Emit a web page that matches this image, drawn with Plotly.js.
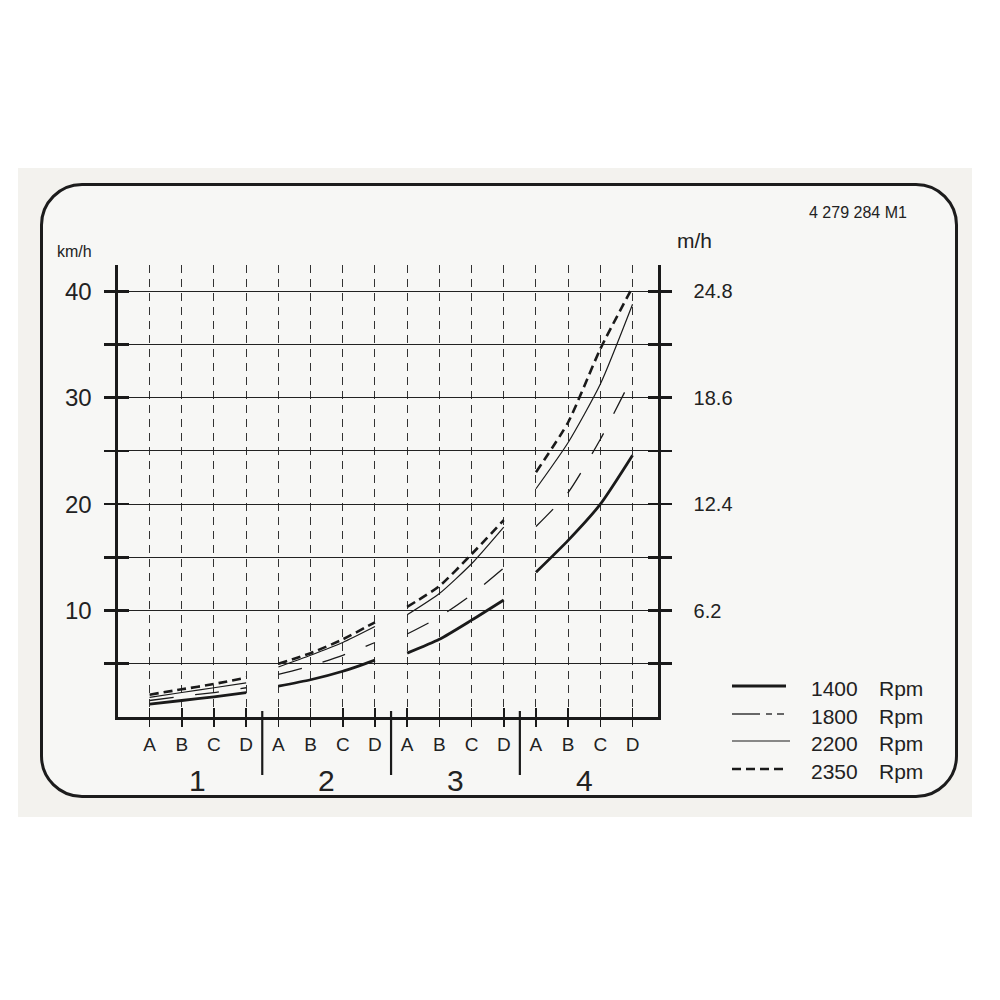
<!DOCTYPE html>
<html>
<head>
<meta charset="utf-8">
<script src="https://cdn.plot.ly/plotly-3.0.1.min.js"></script>
<style>
  html, body { margin: 0; padding: 0; background: #ffffff; }
  #sheet { position: absolute; left: 18px; top: 168px; width: 954px; height: 649px; background: #f3f2ee; }
  #frame { position: absolute; left: 40px; top: 183px; width: 918px; height: 615px; box-sizing: border-box;
           border: 3px solid #1c1c1c; border-radius: 42px; background: #f7f7f5; }
  #chart { position: absolute; left: 0; top: 0; width: 1000px; height: 1000px; }
</style>
</head>
<body>
<div id="sheet"></div>
<div id="frame"></div>
<div id="chart"></div>
<script>
// ---- data ----
const gears = ['1', '2', '3', '4'];
const ranges = ['A', 'B', 'C', 'D'];
const rpmLabels = ['1400', '1800', '2200', '2350'];
// km/h per gear, per range A-D
const rpm1400 = [[1.2, 1.55, 1.9, 2.3], [2.9, 3.5, 4.3, 5.35], [6.0, 7.3, 9.1, 11.0], [13.6, 16.6, 20.0, 24.6]];
const rpm1800 = [[1.55, 1.95, 2.3, 2.75], [4.0, 4.8, 5.8, 7.0], [7.8, 9.4, 11.5, 14.0], [17.9, 21.1, 26.1, 32.0]];
const rpm2200 = [[1.85, 2.3, 2.75, 3.2], [4.7, 5.8, 7.0, 8.5], [9.6, 11.6, 14.4, 17.85], [21.45, 25.8, 31.3, 38.8]];
const rpm2350 = [[2.1, 2.6, 3.1, 3.7], [5.0, 6.0, 7.3, 8.9], [10.35, 12.3, 15.3, 18.5], [23.0, 27.7, 34.6, 40.4]];
const kmhTicks = [5, 10, 15, 20, 25, 30, 35, 40];
const kmhLabels = ['', '10', '', '20', '', '30', '', '40'];
const mphTicks = [3.1, 6.2, 9.3, 12.4, 15.5, 18.6, 21.7, 24.8];
const mphLabels = ['', '6.2', '', '12.4', '', '18.6', '', '24.8'];
const MPH_PER_KMH = 0.62;

// ---- build ----
const ink = '#1a1a1a';
const font = 'Liberation Sans, Arial, sans-serif';
const nPer = ranges.length;
const xVals = [], xText = [];
gears.forEach((g, gi) => ranges.forEach((r, ri) => { xVals.push(gi * nPer + ri); xText.push(r); }));

function series(vals) {
  const x = [], y = [];
  vals.forEach((grp, gi) => {
    grp.forEach((v, ri) => { x.push(gi * nPer + ri); y.push(v); });
    if (gi < vals.length - 1) { x.push(null); y.push(null); }
  });
  return { x, y };
}
const styles = [
  { width: 2.8, dash: 'solid' },
  { width: 1.3, dash: '24px,22px' },
  { width: 1.2, dash: 'solid' },
  { width: 2.6, dash: '9px,5px' }
];
const allSeries = [rpm1400, rpm1800, rpm2200, rpm2350];
const traces = allSeries.map((s, i) => {
  const d = series(s);
  return {
    type: 'scatter', mode: 'lines', x: d.x, y: d.y, name: rpmLabels[i] + ' Rpm',
    connectgaps: false, showlegend: false, hoverinfo: 'skip',
    line: { color: ink, width: styles[i].width, dash: styles[i].dash, shape: 'spline', smoothing: 0.6 }
  };
});

// plot area geometry (px) used to place decorations in paper coordinates
const L = 118, R = 658, T = 265, B = 717;
const W = R - L, H = B - T;
const px = x => (x - L) / W;
const py = y => (B - y) / H;

const yMax = 42.48;
const xRange = [-0.98, 15.79];

const shapes = [];
const annotations = [];
// gear separators
for (let gi = 1; gi < gears.length; gi++) {
  shapes.push({ type: 'line', xref: 'x', yref: 'paper', x0: gi * nPer - 0.5, x1: gi * nPer - 0.5,
    y0: py(711), y1: py(775), line: { color: ink, width: 2.2 } });
}
// gear numbers
gears.forEach((g, gi) => annotations.push({ xref: 'x', yref: 'paper', x: gi * nPer + (nPer - 1) / 2, y: py(780),
  text: g, showarrow: false, font: { family: font, size: 30, color: '#222' }, xanchor: 'center', yanchor: 'middle' }));
// unit labels
annotations.push({ xref: 'paper', yref: 'paper', x: px(74), y: py(251), text: 'km/h', showarrow: false,
  font: { family: font, size: 16, color: '#222' }, xanchor: 'center', yanchor: 'middle' });
annotations.push({ xref: 'paper', yref: 'paper', x: px(694), y: py(241), text: 'm/h', showarrow: false,
  font: { family: font, size: 21, color: '#222' }, xanchor: 'center', yanchor: 'middle' });
annotations.push({ xref: 'paper', yref: 'paper', x: px(858), y: py(212), text: '4 279 284 M1', showarrow: false,
  font: { family: font, size: 16, color: '#222' }, xanchor: 'center', yanchor: 'middle' });

// legend (drawn manually to match the long sample lines)
const legRows = [688, 716, 743, 771];
rpmLabels.forEach((lab, i) => {
  const yy = py(legRows[i]);
  annotations.push({ xref: 'paper', yref: 'paper', x: px(809), y: yy, text: lab, showarrow: false,
    font: { family: font, size: 21, color: '#222' }, xanchor: 'left', yanchor: 'middle' });
  annotations.push({ xref: 'paper', yref: 'paper', x: px(877), y: yy, text: 'Rpm', showarrow: false,
    font: { family: font, size: 21, color: '#222' }, xanchor: 'left', yanchor: 'middle' });
  const ly = py(legRows[i] - 2);
  if (i === 1) {
    shapes.push({ type: 'line', xref: 'paper', yref: 'paper', x0: px(732), x1: px(760), y0: ly, y1: ly, line: { color: ink, width: 1.3 } });
    shapes.push({ type: 'line', xref: 'paper', yref: 'paper', x0: px(766), x1: px(772), y0: ly, y1: ly, line: { color: ink, width: 1.3 } });
    shapes.push({ type: 'line', xref: 'paper', yref: 'paper', x0: px(777), x1: px(784), y0: ly, y1: ly, line: { color: ink, width: 1.3 } });
  } else {
    const x1 = i === 0 ? 786 : (i === 2 ? 790 : 788);
    shapes.push({ type: 'line', xref: 'paper', yref: 'paper', x0: px(732), x1: px(x1), y0: ly, y1: ly,
      line: { color: ink, width: styles[i].width + (i === 0 ? 0.4 : 0), dash: styles[i].dash } });
  }
});

const baseAxis = { zeroline: false, showgrid: false, fixedrange: true };
const layout = {
  width: 1000, height: 1000,
  margin: { l: L, r: 1000 - R, t: T, b: 1000 - B, pad: 0 },
  paper_bgcolor: 'rgba(0,0,0,0)', plot_bgcolor: 'rgba(0,0,0,0)',
  showlegend: false,
  xaxis: Object.assign({}, baseAxis, {
    range: xRange, tickmode: 'array', tickvals: xVals, ticktext: xText,
    showgrid: true, gridcolor: '#333333', gridwidth: 1, griddash: '8px,6px',
    showline: true, linecolor: ink, linewidth: 2.6,
    ticks: 'outside', ticklen: 7, tickwidth: 1.6, tickcolor: ink,
    ticklabelstandoff: 2,
    tickfont: { family: font, size: 19, color: '#222' }
  }),
  xaxis2: Object.assign({}, baseAxis, {
    overlaying: 'x', anchor: 'y', side: 'bottom', range: xRange, tickmode: 'array', tickvals: xVals,
    showticklabels: false, ticks: 'inside', ticklen: 9, tickwidth: 1.6, tickcolor: ink, showline: false
  }),
  yaxis: Object.assign({}, baseAxis, {
    range: [0, yMax], tickmode: 'array', tickvals: kmhTicks, ticktext: kmhLabels,
    showgrid: true, gridcolor: '#222222', gridwidth: 1,
    showline: true, linecolor: ink, linewidth: 2.6,
    ticks: 'outside', ticklen: 11, tickwidth: 2.6, tickcolor: ink,
    ticklabelstandoff: 8,
    tickfont: { family: font, size: 24, color: '#222' }
  }),
  yaxis3: Object.assign({}, baseAxis, {
    overlaying: 'y', anchor: 'x', side: 'left', range: [0, yMax], tickmode: 'array', tickvals: kmhTicks,
    showticklabels: false, ticks: 'inside', ticklen: 11, tickwidth: 2.6, tickcolor: ink
  }),
  yaxis2: Object.assign({}, baseAxis, {
    overlaying: 'y', anchor: 'x', side: 'right', range: [0, yMax * MPH_PER_KMH], tickmode: 'array',
    tickvals: mphTicks, ticktext: mphLabels,
    showline: true, linecolor: ink, linewidth: 2.6,
    ticks: 'outside', ticklen: 11, tickwidth: 2.6, tickcolor: ink,
    ticklabelstandoff: 18,
    tickfont: { family: font, size: 20, color: '#222' }
  }),
  yaxis4: Object.assign({}, baseAxis, {
    overlaying: 'y', anchor: 'x', side: 'right', range: [0, yMax * MPH_PER_KMH], tickmode: 'array',
    tickvals: mphTicks, showticklabels: false, ticks: 'inside', ticklen: 10, tickwidth: 2.6, tickcolor: ink
  }),
  shapes: shapes,
  annotations: annotations
};
// helper traces so overlay axes render
const helpers = [
  { type: 'scatter', x: [], y: [], xaxis: 'x2', yaxis: 'y', showlegend: false, hoverinfo: 'skip' },
  { type: 'scatter', x: [], y: [], xaxis: 'x', yaxis: 'y3', showlegend: false, hoverinfo: 'skip' },
  { type: 'scatter', x: [], y: [], xaxis: 'x', yaxis: 'y2', showlegend: false, hoverinfo: 'skip' },
  { type: 'scatter', x: [], y: [], xaxis: 'x', yaxis: 'y4', showlegend: false, hoverinfo: 'skip' }
];
Plotly.newPlot('chart', helpers.concat(traces), layout, { staticPlot: true, displayModeBar: false });
</script>
</body>
</html>
